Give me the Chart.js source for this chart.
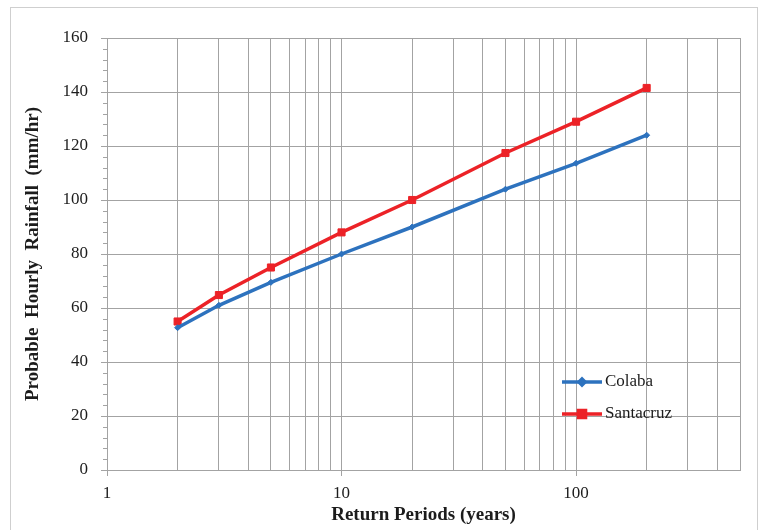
<!DOCTYPE html>
<html>
<head>
<meta charset="utf-8">
<script src="https://cdn.jsdelivr.net/npm/chart.js@4/dist/chart.umd.min.js"></script>
<style>
  html, body { margin: 0; padding: 0; background: #fff; }
  #wrap { width: 761px; height: 530px; }
</style>
</head>
<body>
<div id="wrap"><canvas id="c" width="761" height="530"></canvas></div>
<script>
// Return periods (years) and probable hourly rainfall (mm/hr) per station
const returnPeriods = [2, 3, 5, 10, 20, 50, 100, 200];
const colaba    = [52.7, 61, 69.5, 80, 90, 104, 113.6, 124];
const santacruz = [55, 64.8, 75, 88, 100, 117.4, 129, 141.5];

// Axis ticks
const xGridValues  = [1, 2, 3, 4, 5, 6, 7, 8, 9, 10, 20, 30, 40, 50, 60, 70, 80, 90, 100, 200, 300, 400, 500];
const xLabelValues = [1, 10, 100];
const yMin = 0, yMax = 160, yStep = 20, yMinorStep = 4;

const GRID = '#a3a3a3';
const TEXT = '#1c1c1c';
const SERIF = '"Liberation Serif", "Times New Roman", serif';

const toPoints = ys => returnPeriods.map((x, i) => ({ x: x, y: ys[i] }));

// White page with a thin frame around the figure
const framePlugin = {
  id: 'frame',
  beforeDraw(chart) {
    const ctx = chart.ctx;
    ctx.save();
    ctx.fillStyle = '#fff';
    ctx.fillRect(0, 0, chart.width, chart.height);
    ctx.strokeStyle = '#cfcfcf';
    ctx.lineWidth = 1;
    ctx.strokeRect(10.5, 7.5, chart.width - 14, chart.height + 10);
    ctx.restore();
  }
};

// Small outward minor tick marks on the value axis
const minorTicksPlugin = {
  id: 'minorTicks',
  afterDraw(chart) {
    const y = chart.scales.y;
    const ctx = chart.ctx;
    ctx.save();
    ctx.strokeStyle = GRID;
    ctx.lineWidth = 1;
    for (let v = yMin; v <= yMax; v += yMinorStep) {
      if (v % yStep === 0) continue;
      const py = Math.round(y.getPixelForValue(v)) + 0.5;
      ctx.beginPath();
      ctx.moveTo(y.right - 4, py);
      ctx.lineTo(y.right, py);
      ctx.stroke();
    }
    ctx.restore();
  }
};

// Legend drawn inside the plot, lower right
const insideLegendPlugin = {
  id: 'insideLegend',
  afterDraw(chart) {
    const ctx = chart.ctx;
    const area = chart.chartArea;
    const x0 = area.right - 178, x1 = area.right - 138;
    const yTop = area.bottom - 88, gap = 32;
    ctx.save();
    chart.data.datasets.forEach((ds, i) => {
      const yy = yTop + i * gap;
      ctx.strokeStyle = ds.borderColor;
      ctx.lineWidth = ds.borderWidth;
      ctx.beginPath();
      ctx.moveTo(x0, yy);
      ctx.lineTo(x1, yy);
      ctx.stroke();
      Chart.helpers.drawPoint(ctx, {
        pointStyle: ds.pointStyle,
        radius: ds.pointRadius,
        borderWidth: 1,
        rotation: 0
      }, (x0 + x1) / 2, yy);
      ctx.fillStyle = ds.borderColor;
      ctx.strokeStyle = ds.borderColor;
      ctx.fill();
      ctx.fillStyle = TEXT;
      ctx.font = '17px ' + SERIF;
      ctx.textAlign = 'left';
      ctx.textBaseline = 'middle';
      ctx.fillText(ds.label, x1 + 3, yy);
    });
    ctx.restore();
  }
};

new Chart(document.getElementById('c'), {
  type: 'line',
  data: {
    datasets: [
      {
        label: 'Colaba',
        data: toPoints(colaba),
        borderColor: '#2d72be',
        backgroundColor: '#2d72be',
        borderWidth: 3.5,
        pointStyle: 'rectRot',
        pointRadius: 3,
        pointBorderWidth: 1,
        tension: 0
      },
      {
        label: 'Santacruz',
        data: toPoints(santacruz),
        borderColor: '#ec2227',
        backgroundColor: '#ec2227',
        borderWidth: 3.5,
        pointStyle: 'rect',
        pointRadius: 5,
        pointBorderWidth: 1,
        tension: 0
      }
    ]
  },
  options: {
    responsive: false,
    animation: false,
    devicePixelRatio: 1,
    layout: { padding: { left: 0, top: 38, right: 21, bottom: 0 } },
    plugins: {
      legend: { display: false },
      tooltip: { enabled: false }
    },
    scales: {
      x: {
        type: 'logarithmic',
        min: 1,
        max: 500,
        afterBuildTicks(scale) {
          scale.ticks = xGridValues.map(v => ({ value: v }));
        },
        afterFit(scale) { scale.height = 60; },
        ticks: {
          autoSkip: false,
          maxRotation: 0,
          padding: 7,
          color: TEXT,
          font: { family: SERIF, size: 17 },
          callback: v => (xLabelValues.includes(v) ? String(v) : '')
        },
        grid: {
          color: GRID,
          lineWidth: 1,
          tickLength: 6,
          tickColor: c => (c.tick && xLabelValues.includes(c.tick.value) ? GRID : 'rgba(0,0,0,0)')
        },
        border: { color: GRID, width: 1 },
        title: {
          display: true,
          text: 'Return Periods (years)',
          color: TEXT,
          font: { family: SERIF, size: 19, weight: 'bold' },
          padding: { top: 0, bottom: 4 }
        }
      },
      y: {
        type: 'linear',
        min: yMin,
        max: yMax,
        afterFit(scale) { scale.width = 107; },
        ticks: {
          stepSize: yStep,
          padding: 13,
          color: TEXT,
          font: { family: SERIF, size: 17 }
        },
        grid: { color: GRID, lineWidth: 1, tickLength: 6, tickColor: GRID },
        border: { color: GRID, width: 1 },
        title: {
          display: true,
          text: 'Probable  Hourly  Rainfall  (mm/hr)',
          color: TEXT,
          font: { family: SERIF, size: 19, weight: 'bold' },
          padding: { top: 22, bottom: 0 }
        }
      }
    }
  },
  plugins: [framePlugin, minorTicksPlugin, insideLegendPlugin]
});
</script>
</body>
</html>
